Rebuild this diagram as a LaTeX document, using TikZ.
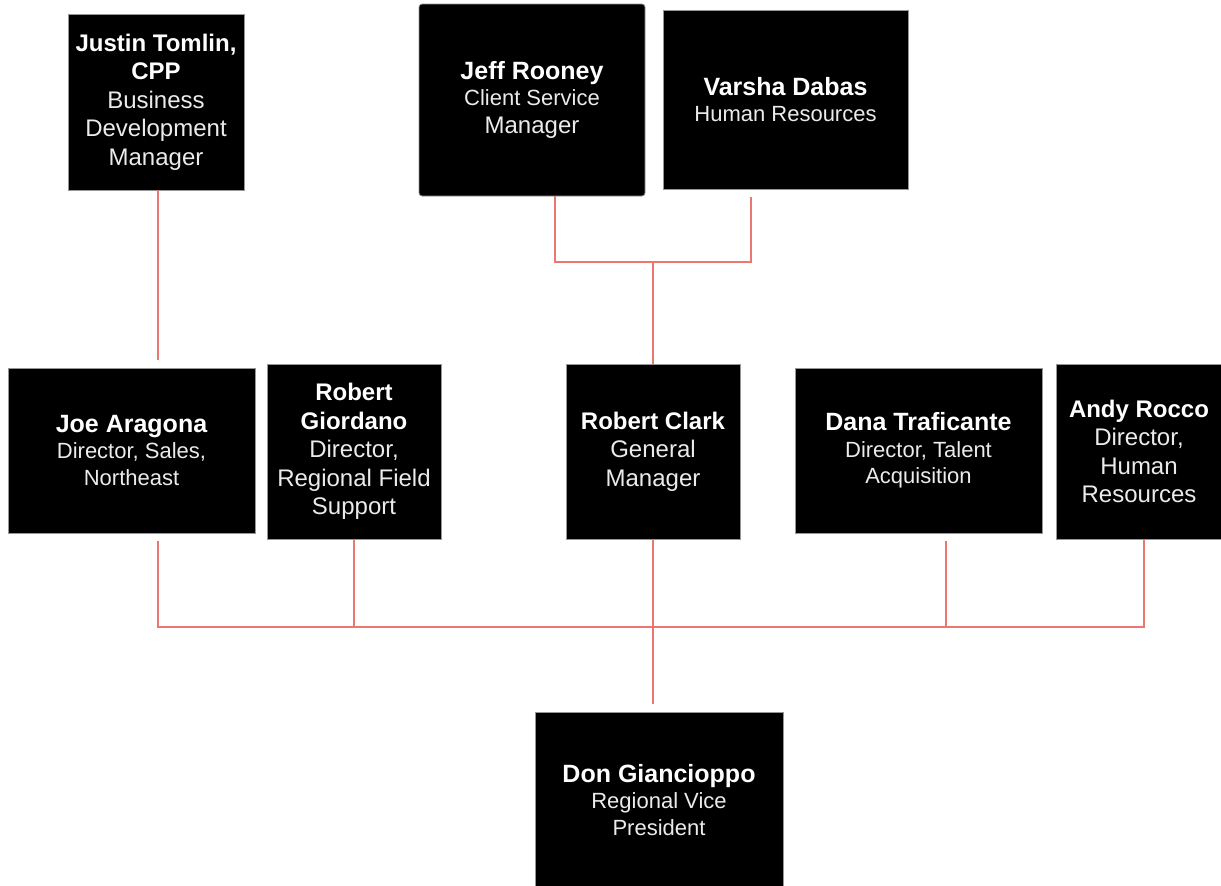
\documentclass[tikz,border=0pt]{standalone}
\usepackage{fontspec}
\setmainfont{Liberation Sans}
\definecolor{connred}{RGB}{236,118,112}
\definecolor{boxedge}{RGB}{150,150,150}
\definecolor{subtxt}{RGB}{235,235,235}
\newcommand{\nmA}[1]{{\color{white}\bfseries\fontsize{25}{26.5}\selectfont #1}}
\newcommand{\rlA}[1]{{\color{subtxt}\fontsize{22}{26.5}\selectfont #1}}
\newcommand{\nmB}[1]{{\color{white}\bfseries\fontsize{24}{28.5}\selectfont #1}}
\newcommand{\rlB}[1]{{\color{subtxt}\fontsize{24}{28.5}\selectfont #1}}
\tikzset{
  box/.style={draw=boxedge, line width=0.8pt, fill=black, inner sep=0pt, align=center, text=white},
  boxA/.style={box, font=\fontsize{22}{26.5}\selectfont},
  boxB/.style={box, font=\fontsize{24}{28.5}\selectfont},
  conn/.style={draw=connred, line width=2pt}
}
\begin{document}
\begin{tikzpicture}[x=1pt,y=-1pt]
\useasboundingbox (0,0) rectangle (1221,886);
% top row
\node[boxB, minimum width=176, minimum height=176] (justin) at (156,102)
  {\nmB{Justin Tomlin,}\\\nmB{CPP}\\\rlB{Business}\\\rlB{Development}\\\rlB{Manager}};
\node[boxA, rounded corners=3pt, minimum width=226, minimum height=192] (jeff) at (532,100)
  {\nmA{Jeff Rooney}\\\rlA{Client Service}\\[1.5pt]\rlB{Manager}};
\node[boxA, minimum width=245, minimum height=179] (varsha) at (785.5,99.5)
  {\nmA{Varsha Dabas}\\\rlA{Human Resources}};
% middle row
\node[boxA, minimum width=247, minimum height=165] (joe) at (131.5,450.5)
  {\nmA{Joe Aragona}\\\rlA{Director, Sales,}\\\rlA{Northeast}};
\node[boxB, minimum width=174, minimum height=175] (giordano) at (354,451.5)
  {\nmB{Robert}\\\nmB{Giordano}\\\rlB{Director,}\\\rlB{Regional Field}\\\rlB{Support}};
\node[boxB, minimum width=174, minimum height=175] (clark) at (653,451.5)
  {\nmB{Robert Clark}\\\rlB{General}\\\rlB{Manager}};
\node[boxA, minimum width=247, minimum height=165] (dana) at (918.5,450.5)
  {\nmA{Dana Traficante}\\\rlA{Director, Talent}\\\rlA{Acquisition}};
\node[boxB, minimum width=166, minimum height=175] (andy) at (1139,451.5)
  {\nmB{Andy Rocco}\\\rlB{Director,}\\\rlB{Human}\\\rlB{Resources}};
% bottom
\node[boxA, minimum width=248, minimum height=176] (don) at (659,800)
  {\nmA{Don Giancioppo}\\\rlA{Regional Vice}\\\rlA{President}};
% coordinates
\coordinate (busL) at (158,627);
\coordinate (busR) at (1144,627);
\coordinate (danac) at (946,627);
\coordinate (jeffc) at (555,262);
\coordinate (varshac) at (751,262);
\coordinate (topbus) at (653,262);
% connectors
\draw[conn, shorten >=8pt] (justin.south -| busL) -- (joe.north -| busL);
\draw[conn, shorten >=8pt] (jeff.south -| jeffc) -- (jeffc) -- (varshac) -- (varsha.south -| varshac);
\draw[conn] (topbus) -- (clark.north);
\draw[conn, shorten <=8pt] (joe.south -| busL) -- (busL) -- (busR) -- (andy.south -| busR);
\draw[conn] (giordano.south) -- (giordano.south |- busL);
\draw[conn, shorten <=8pt] (dana.south -| danac) -- (danac);
\draw[conn, shorten >=8pt] (clark.south) -- (don.north -| clark.south);
\end{tikzpicture}
\end{document}
